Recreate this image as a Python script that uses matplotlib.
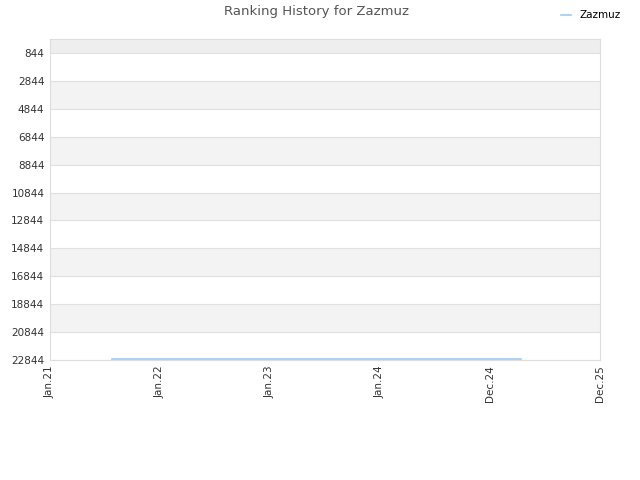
import numpy as np
import matplotlib.pyplot as plt
import matplotlib.dates as mdates
from datetime import datetime

# tick labels on the x axis (evenly spaced in the source chart)
tick_dates = [datetime(2021, 1, 1), datetime(2022, 1, 1), datetime(2023, 1, 1),
              datetime(2024, 1, 1), datetime(2024, 12, 1), datetime(2025, 12, 1)]
tick_labels = ['Jan.21', 'Jan.22', 'Jan.23', 'Jan.24', 'Dec.24', 'Dec.25']

# ranking history
dates = [datetime(2021, 7, 25), datetime(2025, 3, 15)]
ranks = [22800, 22800]

y_ticks = list(range(844, 22845, 2000))

# map dates onto evenly spaced tick positions
tick_num = mdates.date2num(tick_dates)
x = np.interp(mdates.date2num(dates), tick_num, np.arange(len(tick_dates)))

fig = plt.figure(figsize=(6.4, 4.8), dpi=100)
ax = fig.add_axes([0.078, 0.25, 0.8595, 0.66875])

ax.set_xlim(0, len(tick_dates) - 1)
ax.set_ylim(22844, -160)

# alternating bands
ax.axhspan(-160, 844, color='#eeeeee', zorder=0, lw=0)
for i, y0 in enumerate(y_ticks[:-1]):
    if i % 2 == 1:
        ax.axhspan(y0, y0 + 2000, color='#f3f3f3', zorder=0, lw=0)
for y in y_ticks:
    ax.axhline(y, color='#e0e0e0', lw=0.8, zorder=1)

ax.plot(x, ranks, color='#9ecbf2', lw=1.2, label='Zazmuz', zorder=3)

ax.set_yticks(y_ticks)
ax.set_yticklabels([str(v) for v in y_ticks])
ax.set_xticks(range(len(tick_labels)))
ax.set_xticklabels(tick_labels, rotation=90)
ax.tick_params(axis='both', length=0, labelsize=7.5, colors='#333333', pad=4)

for s in ax.spines.values():
    s.set_color('#dddddd')
    s.set_linewidth(0.8)

fig.text(0.495, 0.975, 'Ranking History for Zazmuz', ha='center', va='center',
         fontsize=9.5, color='#555555')
leg = fig.legend(loc='upper right', bbox_to_anchor=(0.985, 0.998), frameon=False,
                 fontsize=7.5, handlelength=1.0, handletextpad=0.8)

fig.savefig('out.png', dpi=100)
